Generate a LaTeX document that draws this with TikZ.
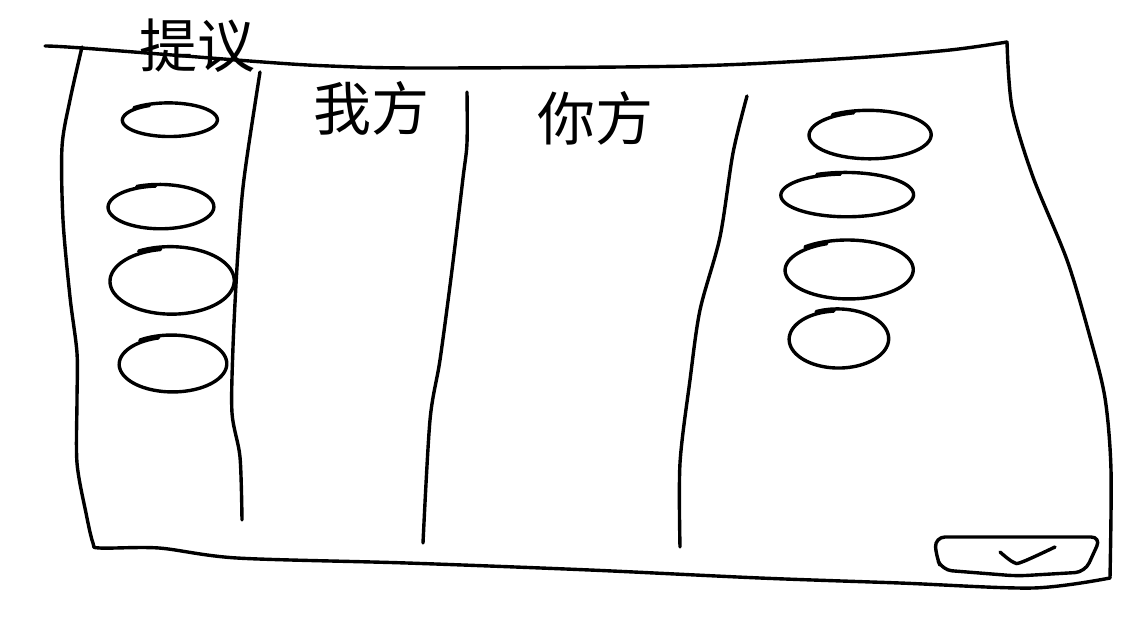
\documentclass[tikz,border=0pt]{standalone}
\usepackage{fontspec}
\newfontfamily\cjk{Noto Sans CJK SC}
\newcommand\handoval[5]{\draw[pen] plot[domain=0:380, samples=90, smooth] ({#1+#3*(1+0.08*\x/380)*cos(#5-\x)}, {#2+#4*(1+0.08*\x/380)*sin(#5-\x)});}
\begin{document}
\begin{tikzpicture}[x=0.5pt,y=-0.5pt, line cap=round, line join=round,
  pen/.style={draw=black, line width=1.7pt},
  txt/.style={font=\cjk\fontsize{29}{29}\selectfont, inner sep=0pt}]
\useasboundingbox (0,0) rectangle (1126,618);
\fill[white] (0,0) rectangle (1126,618);

% outer frame
\draw[pen] plot[smooth, tension=0.5] coordinates {(45,46) (82,48) (263,62) (330,66) (423,68) (690,66) (853,58) (950,50) (1007,42)};
\draw[pen] plot[smooth, tension=0.5] coordinates {(1007,42) (1012,107) (1033,177) (1067,260) (1090,337) (1105,398) (1111,470) (1110,578)};
\draw[pen] plot[smooth, tension=0.5] coordinates {(1110,578) (1033,588) (900,583) (760,578) (590,570) (407,563) (237,558) (159,548) (100,548) (93,543) (86,513) (77,463) (77,400) (77,353) (70,297) (63,220) (62,147) (70,100) (82,47)};

% column dividers
\draw[pen] plot[smooth, tension=0.5] coordinates {(260,72) (248,150) (242,197) (237,267) (233,347) (232,413) (240,457) (242,520)};
\draw[pen] plot[smooth, tension=0.5] coordinates {(467,92) (467,143) (463,178) (452,270) (440,360) (430,420) (423,543)};
\draw[pen] plot[smooth, tension=0.5] coordinates {(747,96) (733,153) (720,237) (700,310) (690,380) (680,463) (680,547)};

% labels
\node[txt] (tiyi) at (197,46) {提议};
\node[txt] (wofang) at (371,108) {我方};
\node[txt] (nifang) at (595,118) {你方};

% left ovals
\handoval{169}{120}{46}{16}{-115}
\handoval{160}{207}{51}{21}{-95}
\handoval{171}{281}{60}{32}{-100}
\handoval{172}{364}{52}{27}{-105}

% right ovals
\handoval{869}{135}{59}{23}{-105}
\handoval{846}{195}{64}{21}{-95}
\handoval{848}{270}{62}{28}{-110}
\handoval{838}{339}{48}{28}{-95}

% button with check mark
\draw[pen, rounded corners=5pt] (935,537) -- (1101,537) -- (1085,572) -- (1017,576) -- (942,570) -- (936,556) -- cycle;
\draw[pen] plot[smooth, tension=0.6] coordinates {(1000,552) (1013,562) (1022,562) (1055,547)};
\end{tikzpicture}
\end{document}
